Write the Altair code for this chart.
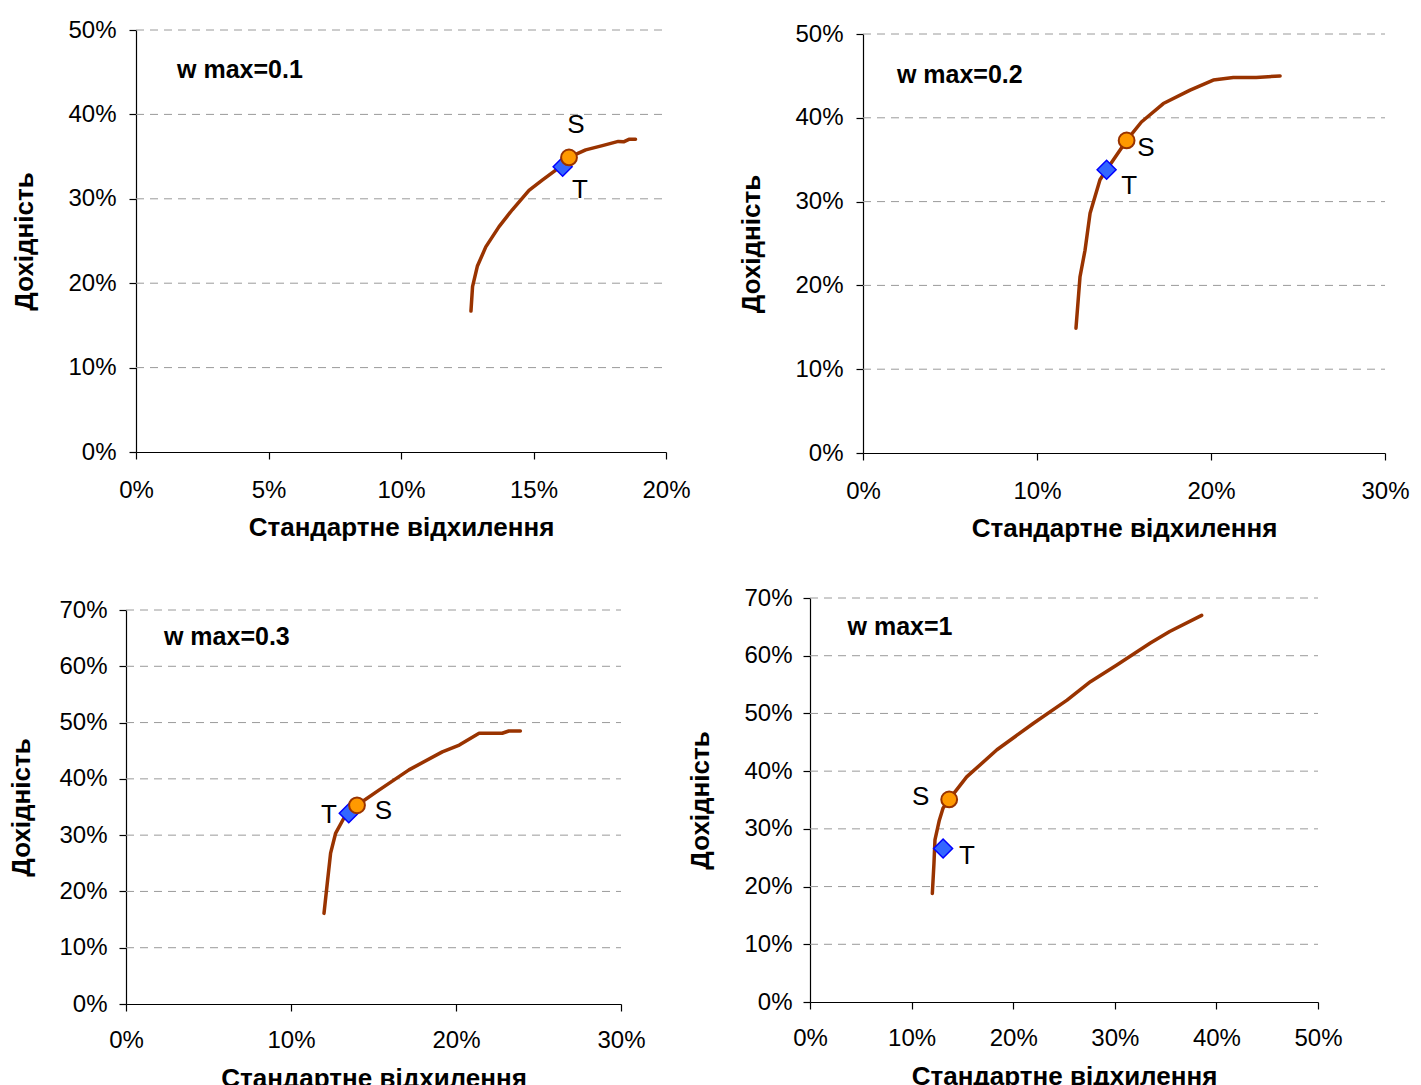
import altair as alt
import pandas as pd

FONT = "Liberation Sans"
LINE_COLOR = "#993300"
X_TITLE = "Стандартне відхилення"
Y_TITLE = "Дохідність"

# ---- Panel 1: wmax=0.1 ----
p1_sd = [12.64, 12.7, 12.88, 13.2, 13.7, 14.2, 14.83, 15.33, 15.84, 16.34, 16.97, 17.6, 18.2, 18.4, 18.6, 18.85]
p1_ret = [16.7, 19.6, 22.0, 24.3, 26.7, 28.7, 31.0, 32.2, 33.4, 34.9, 35.8, 36.3, 36.8, 36.75, 37.05, 37.05]
p1_S = [16.34, 34.9]
p1_T = [16.1, 33.8]

# ---- Panel 2: wmax=0.2 ----
p2_sd = [12.24, 12.47, 12.76, 13.05, 13.62, 14.0, 15.15, 16.0, 17.26, 18.8, 20.13, 21.28, 22.6, 23.97]
p2_ret = [14.9, 21.0, 24.2, 28.6, 32.6, 33.8, 37.3, 39.5, 41.7, 43.3, 44.5, 44.8, 44.8, 45.0]
p2_S = [15.15, 37.3]
p2_T = [14.0, 33.8]

# ---- Panel 3: wmax=0.3 ----
p3_sd = [12.0, 12.2, 12.4, 12.7, 13.2, 13.5, 14.0, 15.33, 17.15, 19.17, 20.2, 21.4, 22.8, 23.2, 23.9]
p3_ret = [16.1, 21.5, 26.8, 30.3, 33.0, 33.9, 35.3, 38.0, 41.6, 44.8, 46.0, 48.1, 48.1, 48.5, 48.5]
p3_S = [14.0, 35.3]
p3_T = [13.5, 33.9]

# ---- Panel 4: wmax=1 ----
p4_sd = [12.04, 12.2, 12.3, 12.73, 13.1, 13.7, 15.42, 18.4, 22.0, 25.3, 27.6, 30.2, 33.5, 35.4, 38.55]
p4_ret = [18.8, 24.0, 28.1, 31.5, 33.6, 35.1, 39.0, 43.7, 48.3, 52.3, 55.5, 58.4, 62.2, 64.2, 67.0]
p4_S = [13.7, 35.1]
p4_T = [13.1, 26.6]

# annotation texts and their anchor points (data units)
panel_titles = ["w max=0.1", "w max=0.2", "w max=0.3", "w max=1"]
title_pos = [[1.55, 45.3], [1.95, 45.1], [2.3, 65.2], [3.7, 65.0]]
S_label_pos = [[16.6, 38.7], [16.26, 36.4], [15.6, 34.3], [10.9, 35.5]]
T_label_pos = [[16.75, 31.0], [15.3, 31.9], [12.3, 33.6], [15.45, 25.3]]

x_ticks = [[0, 5, 10, 15, 20], [0, 10, 20, 30], [0, 10, 20, 30], [0, 10, 20, 30, 40, 50]]
y_ticks = [[0, 10, 20, 30, 40, 50], [0, 10, 20, 30, 40, 50],
           [0, 10, 20, 30, 40, 50, 60, 70], [0, 10, 20, 30, 40, 50, 60, 70]]


def panel(i, sd, ret, S, T, w, h, y_tp, y_lp, x_lp, x_tp,
          xrange=None, yrange=None, yoffset=0, top_extra=0, left_extra=0):
    xmax = x_ticks[i][-1]
    ymax = y_ticks[i][-1]
    xs_kw = dict(domain=[0, xmax], nice=False, zero=True)
    ys_kw = dict(domain=[0, ymax], nice=False, zero=True)
    if xrange:
        xs_kw["range"] = xrange
    if yrange:
        ys_kw["range"] = yrange
    xs = alt.Scale(**xs_kw)
    ys = alt.Scale(**ys_kw)
    xaxis = alt.Axis(values=x_ticks[i], labelExpr="datum.value + '%'", title=X_TITLE,
                     grid=False, tickSize=7, labelPadding=x_lp, titlePadding=x_tp,
                     labelFlush=False, labelOverlap=False)
    yaxis = alt.Axis(values=y_ticks[i], labelExpr="datum.value + '%'", title=Y_TITLE,
                     grid=False, tickSize=7, labelPadding=y_lp, titlePadding=y_tp,
                     labelFlush=False, labelOverlap=False, offset=yoffset)

    # dashed horizontal gridlines at the y tick values (0% is the axis itself)
    gdf = pd.DataFrame({"g": y_ticks[i][1:], "x0": [0] * (len(y_ticks[i]) - 1),
                        "x1": [xmax] * (len(y_ticks[i]) - 1)})
    grid = alt.Chart(gdf).mark_rule(color="#9a9a9a", strokeWidth=1, strokeDash=[8, 6]).encode(
        x=alt.X("x0:Q", scale=xs, axis=xaxis), x2="x1:Q",
        y=alt.Y("g:Q", scale=ys, axis=yaxis))

    df = pd.DataFrame({"sd": sd, "ret": ret, "i": list(range(len(sd)))})
    line = alt.Chart(df).mark_line(color=LINE_COLOR, strokeWidth=3.5, strokeCap="round",
                                   strokeJoin="round").encode(
        x=alt.X("sd:Q", scale=xs, axis=xaxis),
        y=alt.Y("ret:Q", scale=ys, axis=yaxis),
        order="i:Q",
    )
    tdf = pd.DataFrame({"sd": [T[0]], "ret": [T[1]]})
    tmark = alt.Chart(tdf).mark_point(shape="diamond", filled=True, fill="#3366ff",
                                      stroke="#0000ff", strokeWidth=1.5, size=360, opacity=1).encode(
        x=alt.X("sd:Q", scale=xs), y=alt.Y("ret:Q", scale=ys))
    sdf = pd.DataFrame({"sd": [S[0]], "ret": [S[1]]})
    smark = alt.Chart(sdf).mark_point(shape="circle", filled=True, fill="#ff9900",
                                      stroke=LINE_COLOR, strokeWidth=2, size=250, opacity=1).encode(
        x=alt.X("sd:Q", scale=xs), y=alt.Y("ret:Q", scale=ys))
    ldf = pd.DataFrame({"sd": [S_label_pos[i][0], T_label_pos[i][0]],
                        "ret": [S_label_pos[i][1], T_label_pos[i][1]],
                        "t": ["S", "T"]})
    labels = alt.Chart(ldf).mark_text(font=FONT, fontSize=26, color="black",
                                      align="center", baseline="middle").encode(
        x=alt.X("sd:Q", scale=xs), y=alt.Y("ret:Q", scale=ys), text="t:N")
    hdf = pd.DataFrame({"sd": [title_pos[i][0]], "ret": [title_pos[i][1]], "t": [panel_titles[i]]})
    head = alt.Chart(hdf).mark_text(font=FONT, fontSize=25, fontWeight="bold", color="black",
                                    align="left", baseline="middle").encode(
        x=alt.X("sd:Q", scale=xs), y=alt.Y("ret:Q", scale=ys), text="t:N")
    layers = [grid, line, tmark, smark, labels, head]
    # invisible layout spacers (white on white, in empty margin areas)
    if top_extra > 0:
        layers.append(alt.Chart(hdf).mark_rule(color="white", strokeWidth=1).encode(
            x=alt.value(1), x2=alt.value(3), y=alt.value(-top_extra), y2=alt.value(-top_extra + 1)))
    if left_extra > 0:
        layers.append(alt.Chart(hdf).mark_rule(color="white", strokeWidth=1).encode(
            x=alt.value(-left_extra), x2=alt.value(-left_extra + 1),
            y=alt.value(h / 2), y2=alt.value(h / 2 + 2)))
    return alt.layer(*layers).properties(width=w, height=h)


c1 = panel(0, p1_sd, p1_ret, p1_S, p1_T, 530, 422, y_tp=30, y_lp=13, x_lp=19, x_tp=12)
c2 = panel(1, p2_sd, p2_ret, p2_S, p2_T, 522, 423, y_tp=30, y_lp=13, x_lp=19, x_tp=12,
           yrange=[423, 4], left_extra=175)
c3 = panel(2, p3_sd, p3_ret, p3_S, p3_T, 485, 394, y_tp=24, y_lp=12, x_lp=17, x_tp=13,
           xrange=[-10, 485], yoffset=10, top_extra=23)
c4 = panel(3, p4_sd, p4_ret, p4_S, p4_T, 508, 404, y_tp=30, y_lp=11, x_lp=17, x_tp=13)

chart = alt.concat(c1, c2, c3, c4, columns=2, align="none", bounds="full",
                   spacing={"row": 45, "column": -4}).properties(
    padding={"left": 0, "top": 10, "right": 2, "bottom": 0}
).configure_view(stroke=None).configure_axis(
    labelFont=FONT, labelFontSize=24, labelColor="black",
    titleFont=FONT, titleFontSize=26, titleFontWeight="bold", titleColor="black",
    domainColor="black", domainWidth=1.2, tickColor="black", tickWidth=1.2,
)

chart.save("out.html", embed_options={"renderer": "svg", "actions": False})
